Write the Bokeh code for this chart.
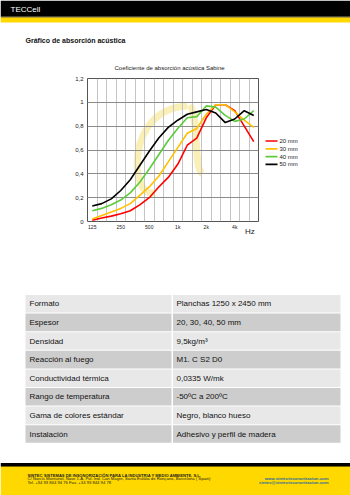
from bokeh.plotting import figure
from bokeh.models import Range1d, FixedTicker, LinearAxis
from bokeh.layouts import column, row
from bokeh.core.properties import value
from bokeh.embed import file_html
from bokeh.resources import INLINE

FONT = "Liberation Sans"

# ---------------- data ----------------
freqs = ["125", "160", "200", "250", "315", "400", "500", "630", "800", "1k",
         "1.25k", "1.6k", "2k", "2.5k", "3.15k", "4k", "5k", "6.3k"]
tick_labels = ["125", "250", "500", "1k", "2k", "4k"]
series_names = ["20 mm", "30 mm", "40 mm", "50 mm"]
abs_20mm = [0.01, 0.03, 0.045, 0.065, 0.09, 0.14, 0.20, 0.29, 0.37, 0.48,
            0.64, 0.70, 0.87, 0.98, 0.98, 0.93, 0.80, 0.67]
abs_30mm = [0.02, 0.05, 0.08, 0.11, 0.15, 0.22, 0.29, 0.38, 0.50, 0.62,
            0.74, 0.78, 0.90, 0.98, 0.98, 0.92, 0.85, 0.79]
abs_40mm = [0.09, 0.11, 0.14, 0.18, 0.24, 0.33, 0.44, 0.56, 0.68, 0.78,
            0.87, 0.88, 0.97, 0.96, 0.89, 0.84, 0.86, 0.93]
abs_50mm = [0.13, 0.15, 0.19, 0.26, 0.35, 0.47, 0.59, 0.70, 0.79, 0.85,
            0.90, 0.92, 0.94, 0.91, 0.83, 0.86, 0.93, 0.89]
series_colors = ["#FF0000", "#FFC000", "#5DCB3C", "#000000"]
y_ticks = [0, 0.2, 0.4, 0.6, 0.8, 1.0, 1.2]
y_tick_labels = ["0", "0,2", "0,4", "0,6", "0,8", "1", "1,2"]
x_unit = "Hz"

table_labels = ["Formato", "Espesor", "Densidad", "Reacción al fuego",
                "Conductividad térmica", "Rango de temperatura",
                "Gama de colores estándar", "Instalación"]
table_values = ["Planchas 1250 x 2450 mm", "20, 30, 40, 50 mm", "9,5kg/m³",
                "M1. C S2 D0", "0,0335 W/mk", "-50ºC a  200ºC",
                "Negro, blanco hueso", "Adhesivo y perfil de madera"]

footer_lines = ["SINTEC SISTEMAS DE INSONORIZACIÓN PARA LA INDUSTRIA Y MEDIO AMBIENTE, S.L.",
                "C/ Narcís Monturiol, Nave 1-A, Pol. Ind. Can Magre, Santa Eulàlia de Ronçana, Barcelona ( Spain)",
                "Tel.  +34 93 844 94 76     Fax.  +34 93 844 94 78"]
footer_web = ["www.sintecinsonorizacion.com", "sintec@sintecinsonorizacion.com"]

YELLOW = "#FFD800"


def blank(w, h):
    p = figure(width=w, height=h, x_range=Range1d(0, w), y_range=Range1d(h, 0),
               output_backend="svg", toolbar_location=None, min_border=0,
               x_axis_type=None, y_axis_type=None)
    p.outline_line_color = None
    p.background_fill_color = "white"
    p.border_fill_color = "white"
    return p


def plain_axis(ax, size, standoff):
    ax.axis_line_color = None
    ax.major_tick_line_color = None
    ax.major_tick_out = 0
    ax.major_tick_in = 0
    ax.minor_tick_line_color = None
    ax.minor_tick_out = 0
    ax.major_label_text_font = FONT
    ax.major_label_text_font_size = size
    ax.major_label_text_color = "#222222"
    ax.major_label_standoff = standoff


# ---------------- header ----------------
hdr = blank(350, 50)
hdr.quad(left=[0, 0, 0], right=[350, 350, 350], top=[0, 16.3, 17.3],
         bottom=[16.3, 17.3, 22], color=["#000000", "#7a6500", YELLOW], line_color=None)
hdr.text(x=[10], y=[8.5], text=["TECCell"], text_color="white", text_font=value(FONT),
         text_font_size="8px", text_baseline="middle")
hdr.text(x=[25], y=[40], text=["Gráfico de absorción acústica"], text_color="#111111",
         text_font=value(FONT), text_font_style="bold", text_font_size="7px",
         text_baseline="middle")

# ---------------- chart ----------------
idx = list(range(len(freqs)))
p = figure(width=259, height=195, x_range=Range1d(-0.5, len(freqs) - 0.5),
           y_range=Range1d(0, 1.2), output_backend="svg", toolbar_location=None,
           min_border_left=87, min_border_right=1, min_border_top=28, min_border_bottom=24,
           title="Coeficiente de absorción acústica Sabine")
p.background_fill_color = "white"
p.border_fill_color = "white"
p.outline_line_color = "#555555"
p.title.align = "left"
p.title.offset = 27
p.title.text_font = FONT
p.title.text_font_size = "6px"
p.title.text_font_style = "normal"
p.title.text_color = "#222222"
p.title.standoff = 16

xa = p.below[0]
xa.ticker = FixedTicker(ticks=[freqs.index(t) for t in tick_labels])
xa.major_label_overrides = {freqs.index(t): t for t in tick_labels}
plain_axis(xa, "5px", 2)

ya = p.left[0]
ya.ticker = FixedTicker(ticks=y_ticks)
ya.major_label_overrides = dict(zip(y_ticks, y_tick_labels))
plain_axis(ya, "6px", 4)

p.xgrid.ticker = FixedTicker(ticks=[i + 0.5 for i in idx[:-1]])
p.xgrid.grid_line_color = "#c4c4c4"
p.ygrid.ticker = FixedTicker(ticks=y_ticks)
p.ygrid.grid_line_color = "#8c8c8c"

hz_pos = len(freqs) - 1.4
hz_axis = LinearAxis(ticker=FixedTicker(ticks=[hz_pos]), major_label_overrides={hz_pos: x_unit})
plain_axis(hz_axis, "8px", -6)
p.add_layout(hz_axis, "below")

# faint yellow logo watermark behind the curves
p.bezier(x0=[10.0, 10.3], y0=[0.97, 0.98], x1=[6.6, 11.6], y1=[0.24, 0.40],
         cx0=[3.4, 11.3], cy0=[0.95, 0.85], cx1=[3.9, 10.6], cy1=[0.18, 0.45],
         line_color="#F6E27A", line_width=7, line_alpha=0.55, level="image")

for vals, col in zip([abs_20mm, abs_30mm, abs_40mm, abs_50mm], series_colors):
    p.line(x=idx, y=vals, line_color=col, line_width=1.6)

# legend as its own small panel to the right of the chart
leg = blank(91, 195)
pitch = 10.6
ly = [85.3 + i * pitch for i in range(len(series_names))]
leg.segment(x0=[6] * len(ly), y0=ly, x1=[18] * len(ly), y1=ly, line_color=series_colors,
            line_width=1.6)
leg.text(x=[20] * len(ly), y=ly, text=series_names, text_color="#222222",
         text_font=value(FONT), text_font_size="6px", text_baseline="middle")

# ---------------- table + footer ----------------
tf = blank(350, 250)
row_h = 18.6
row_top0 = 49
n = len(table_labels)
tops = [row_top0 + i * row_h for i in range(n)]
fills = ["#E8E8E8" if i % 2 == 0 else "#CDCDCD" for i in range(n)]
tf.quad(left=[25] * n, right=[171] * n, top=[t + 0.5 for t in tops],
        bottom=[t + row_h - 0.5 for t in tops], color=fills, line_color=None)
tf.quad(left=[172.5] * n, right=[340] * n, top=[t + 0.5 for t in tops],
        bottom=[t + row_h - 0.5 for t in tops], color=fills, line_color=None)
tf.text(x=[29] * n, y=[t + row_h / 2 for t in tops], text=table_labels, text_color="#111111",
        text_font=value(FONT), text_font_size="8px", text_baseline="middle")
tf.text(x=[176] * n, y=[t + row_h / 2 for t in tops], text=table_values, text_color="#111111",
        text_font=value(FONT), text_font_size="8px", text_baseline="middle")

tf.quad(left=[0, 0, 0], right=[350, 350, 350], top=[217.5, 220.5, 221.5],
        bottom=[220.5, 221.5, 250], color=["#000000", "#7a6500", YELLOW], line_color=None)
tf.text(x=[27], y=[229.5], text=[footer_lines[0]], text_color="#222222", text_font=value(FONT),
        text_font_style="bold", text_font_size="4.1px", text_baseline="middle")
tf.text(x=[27, 27], y=[233.3, 237.1], text=footer_lines[1:], text_color="#222222",
        text_font=value(FONT), text_font_size="4.2px", text_baseline="middle")
tf.text(x=[328, 328], y=[233.3, 237.1], text=footer_web, text_color="#1f6a9a",
        text_font=value(FONT), text_font_style="bold", text_font_size="4.3px",
        text_baseline="middle", text_align="right")

page = column(hdr, row(p, leg, spacing=0), tf, spacing=0)
open("out.html", "w").write(file_html(page, INLINE))
